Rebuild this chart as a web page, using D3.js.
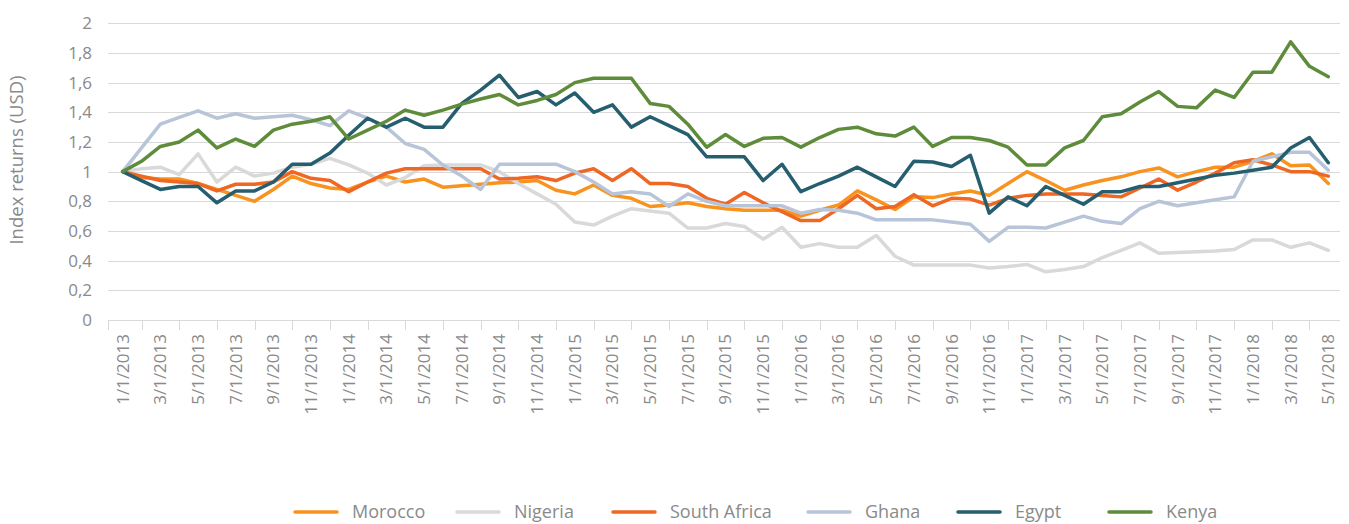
<!DOCTYPE html>
<html>
<head>
<meta charset="utf-8">
<script src="https://cdn.jsdelivr.net/npm/d3@7"></script>
<style>
  body { margin: 0; background: #fff; }
  svg text { font-family: "Open Sans", sans-serif; fill: #8a8a8a; }
</style>
</head>
<body>
<svg id="chart"></svg>
<script>
// categories (monthly, 1/1/2013 .. 5/1/2018)
var months = [
  "1/1/2013","2/1/2013","3/1/2013","4/1/2013","5/1/2013","6/1/2013","7/1/2013","8/1/2013","9/1/2013","10/1/2013","11/1/2013","12/1/2013",
  "1/1/2014","2/1/2014","3/1/2014","4/1/2014","5/1/2014","6/1/2014","7/1/2014","8/1/2014","9/1/2014","10/1/2014","11/1/2014","12/1/2014",
  "1/1/2015","2/1/2015","3/1/2015","4/1/2015","5/1/2015","6/1/2015","7/1/2015","8/1/2015","9/1/2015","10/1/2015","11/1/2015","12/1/2015",
  "1/1/2016","2/1/2016","3/1/2016","4/1/2016","5/1/2016","6/1/2016","7/1/2016","8/1/2016","9/1/2016","10/1/2016","11/1/2016","12/1/2016",
  "1/1/2017","2/1/2017","3/1/2017","4/1/2017","5/1/2017","6/1/2017","7/1/2017","8/1/2017","9/1/2017","10/1/2017","11/1/2017","12/1/2017",
  "1/1/2018","2/1/2018","3/1/2018","4/1/2018","5/1/2018"
];

var morocco = [1.0,0.96,0.95,0.95,0.92,0.88,0.84,0.80,0.88,0.97,
  0.92,0.89,0.88,0.93,0.97,0.93,0.95,0.895,0.905,0.915,
  0.925,0.93,0.94,0.875,0.85,0.91,0.84,0.82,0.765,0.775,
  0.79,0.765,0.75,0.74,0.74,0.74,0.70,0.74,0.775,0.87,
  0.81,0.745,0.83,0.825,0.85,0.87,0.84,0.92,1.0,0.94,
  0.875,0.91,0.94,0.965,1.0,1.025,0.965,1.0,1.03,1.03,
  1.07,1.12,1.04,1.045,0.92];

var nigeria = [1.0,1.02,1.03,0.98,1.12,0.93,1.03,0.97,0.99,1.03,
  1.05,1.09,1.045,0.99,0.91,0.96,1.04,1.045,1.045,1.045,
  1.0,0.92,0.85,0.78,0.66,0.64,0.70,0.75,0.735,0.72,
  0.62,0.62,0.65,0.63,0.545,0.625,0.49,0.515,0.49,0.49,
  0.57,0.43,0.37,0.37,0.37,0.37,0.35,0.36,0.375,0.325,
  0.34,0.36,0.42,0.47,0.52,0.45,0.455,0.46,0.465,0.475,
  0.54,0.54,0.49,0.52,0.47];

var southAfrica = [1.0,0.97,0.94,0.93,0.92,0.87,0.915,0.915,0.93,1.0,
  0.955,0.94,0.865,0.93,0.99,1.02,1.02,1.02,1.02,1.02,
  0.95,0.955,0.965,0.94,0.99,1.02,0.94,1.02,0.92,0.92,
  0.90,0.82,0.78,0.86,0.79,0.73,0.67,0.67,0.75,0.84,
  0.75,0.765,0.845,0.77,0.82,0.815,0.775,0.82,0.84,0.85,
  0.85,0.85,0.84,0.83,0.89,0.95,0.875,0.93,0.99,1.06,
  1.08,1.045,1.0,1.0,0.97];

var ghana = [1.0,1.16,1.32,1.366,1.41,1.36,1.39,1.36,1.37,1.38,
  1.35,1.31,1.41,1.36,1.30,1.19,1.15,1.045,0.97,0.88,
  1.05,1.05,1.05,1.05,1.0,0.93,0.85,0.865,0.85,0.765,
  0.85,0.80,0.77,0.77,0.77,0.77,0.72,0.745,0.74,0.72,
  0.675,0.675,0.675,0.675,0.66,0.645,0.53,0.625,0.625,0.62,
  0.66,0.70,0.665,0.65,0.75,0.80,0.77,0.79,0.81,0.83,
  1.07,1.10,1.13,1.13,1.01];

var egypt = [1.0,0.94,0.88,0.90,0.90,0.79,0.87,0.87,0.93,1.05,
  1.05,1.125,1.245,1.36,1.30,1.36,1.30,1.30,1.46,1.55,
  1.65,1.50,1.54,1.45,1.53,1.40,1.45,1.30,1.37,1.31,
  1.25,1.10,1.10,1.10,0.94,1.05,0.865,0.92,0.97,1.03,
  0.965,0.90,1.07,1.065,1.035,1.11,0.72,0.83,0.77,0.90,
  0.84,0.78,0.865,0.865,0.90,0.90,0.925,0.95,0.975,0.99,
  1.01,1.03,1.16,1.23,1.06];

var kenya = [1.0,1.07,1.17,1.20,1.28,1.16,1.22,1.17,1.28,1.32,
  1.34,1.37,1.22,1.28,1.34,1.415,1.38,1.415,1.455,1.49,
  1.52,1.45,1.48,1.52,1.60,1.63,1.63,1.63,1.46,1.44,
  1.32,1.165,1.25,1.17,1.225,1.23,1.165,1.23,1.285,1.30,
  1.255,1.24,1.30,1.17,1.23,1.23,1.21,1.165,1.045,1.045,
  1.16,1.21,1.37,1.39,1.47,1.54,1.44,1.43,1.55,1.50,
  1.67,1.67,1.875,1.71,1.64];

var seriesNames = ["Morocco", "Nigeria", "South Africa", "Ghana", "Egypt", "Kenya"];
var seriesValues = [morocco, nigeria, southAfrica, ghana, egypt, kenya];
var seriesColors = ["#f7931e", "#d9d9d9", "#ee6723", "#b8c4d8", "#255e6e", "#5e8c3a"];

var yTicks = [0, 0.2, 0.4, 0.6, 0.8, 1, 1.2, 1.4, 1.6, 1.8, 2];
var yTickLabels = ["0", "0,2", "0,4", "0,6", "0,8", "1", "1,2", "1,4", "1,6", "1,8", "2"];

var W = 1349, H = 524;
var plot = { left: 108, right: 1340, top: 23.3, bottom: 320 };

var svg = d3.select("#chart").attr("width", W).attr("height", H);

var x = d3.scaleLinear()
  .domain([-0.78, months.length - 1 + 0.62])
  .range([plot.left, plot.right]);

var y = d3.scaleLinear().domain([0, 2]).range([plot.bottom, plot.top]);

// gridlines
svg.append("g")
  .selectAll("line")
  .data(yTicks)
  .enter()
  .append("line")
  .attr("x1", plot.left)
  .attr("x2", plot.right)
  .attr("y1", function (d) { return Math.round(y(d)) + 0.5; })
  .attr("y2", function (d) { return Math.round(y(d)) + 0.5; })
  .attr("stroke", "#d9d9d9")
  .attr("stroke-width", 1);

// y labels
svg.append("g")
  .selectAll("text")
  .data(yTicks)
  .enter()
  .append("text")
  .attr("x", 92)
  .attr("y", function (d) { return y(d); })
  .attr("dy", "0.35em")
  .attr("text-anchor", "end")
  .style("font-size", "17px")
  .text(function (d, i) { return yTickLabels[i]; });

// x tick marks between the labelled months
var tickIdx = d3.range(-0.78, months.length, 2).map(function (d, i) { return i === 0 ? -0.78 : 2 * i - 1; });
svg.append("g")
  .selectAll("line")
  .data(tickIdx)
  .enter()
  .append("line")
  .attr("x1", function (d) { return Math.round(x(d)) + 0.5; })
  .attr("x2", function (d) { return Math.round(x(d)) + 0.5; })
  .attr("y1", plot.bottom)
  .attr("y2", plot.bottom + 10)
  .attr("stroke", "#d9d9d9");

// x labels, every second month
svg.append("g")
  .selectAll("text")
  .data(months.filter(function (d, i) { return i % 2 === 0; }))
  .enter()
  .append("text")
  .attr("transform", function (d) {
    return "translate(" + x(months.indexOf(d)) + "," + (plot.bottom + 14) + ") rotate(-90)";
  })
  .attr("dy", "0.35em")
  .attr("text-anchor", "end")
  .style("font-size", "17px")
  .text(function (d) { return d; });

// axis title
svg.append("text")
  .attr("transform", "translate(17,160) rotate(-90)")
  .attr("dy", "0.35em")
  .attr("text-anchor", "middle")
  .style("font-size", "18.5px")
  .text("Index returns (USD)");

// lines
var line = d3.line()
  .x(function (d, i) { return x(i); })
  .y(function (d) { return y(d); });

svg.append("g")
  .selectAll("path")
  .data(seriesValues)
  .enter()
  .append("path")
  .attr("d", line)
  .attr("fill", "none")
  .attr("stroke", function (d, i) { return seriesColors[i]; })
  .attr("stroke-width", 3.5)
  .attr("stroke-linejoin", "round")
  .attr("stroke-linecap", "round");

// legend
var legendX = [295, 457, 613, 808, 958, 1109];
var legend = svg.append("g")
  .selectAll("g")
  .data(seriesNames)
  .enter()
  .append("g")
  .attr("transform", function (d, i) { return "translate(" + legendX[i] + ",512)"; });

legend.append("line")
  .attr("x1", 0)
  .attr("x2", 42)
  .attr("stroke", function (d, i) { return seriesColors[i]; })
  .attr("stroke-width", 3.5)
  .attr("stroke-linecap", "round");

legend.append("text")
  .attr("x", 57)
  .attr("dy", "0.35em")
  .style("font-size", "18px")
  .text(function (d) { return d; });
</script>
</body>
</html>
